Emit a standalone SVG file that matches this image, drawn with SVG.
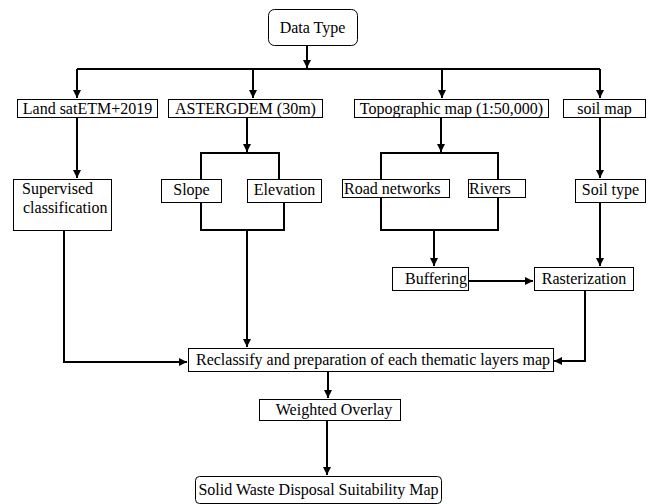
<svg xmlns="http://www.w3.org/2000/svg" width="655" height="504" viewBox="0 0 655 504">
<style>
.box{fill:#fff;stroke:#000;stroke-width:1}
.t{font-family:"Liberation Serif","Times New Roman",serif;font-size:16px;fill:#000}
.m{text-anchor:middle}
.c{fill:none;stroke:#000;stroke-width:2}
</style>
<defs>
<marker id="ah" markerUnits="userSpaceOnUse" markerWidth="9" markerHeight="8" refX="8" refY="4" orient="auto">
<path d="M0,0 L8,4 L0,8 z" fill="#000"/>
</marker>
</defs>
<rect width="655" height="504" fill="#fff"/>
<g id="connectors">
<path class="c" d="M307,45 V68" marker-end="url(#ah)"/>
<path class="c" d="M77,69 H600"/>
<path class="c" d="M77,69 V98" marker-end="url(#ah)"/>
<path class="c" d="M253,69 V98" marker-end="url(#ah)"/>
<path class="c" d="M442,69 V98" marker-end="url(#ah)"/>
<path class="c" d="M600,69 V98" marker-end="url(#ah)"/>
<path class="c" d="M77,117 V178" marker-end="url(#ah)"/>
<path class="c" d="M247,117 V152" marker-end="url(#ah)"/>
<path class="c" d="M201,179 V153 H279 V179"/>
<path class="c" d="M201,202 V230 H284 V202"/>
<path class="c" d="M247,230 V347" marker-end="url(#ah)"/>
<path class="c" d="M441,117 V152" marker-end="url(#ah)"/>
<path class="c" d="M381,179 V153 H498 V179"/>
<path class="c" d="M381,197 V230 H498 V197"/>
<path class="c" d="M434,230 V266" marker-end="url(#ah)"/>
<path class="c" d="M468,281 H533" marker-end="url(#ah)"/>
<path class="c" d="M600,117 V178" marker-end="url(#ah)"/>
<path class="c" d="M600,202 V266" marker-end="url(#ah)"/>
<path class="c" d="M585,290 V361 H554" marker-end="url(#ah)"/>
<path class="c" d="M64,230 V362 H187" marker-end="url(#ah)"/>
<path class="c" d="M328,371 V398" marker-end="url(#ah)"/>
<path class="c" d="M327,421 V475" marker-end="url(#ah)"/>
</g>
<g id="data-type"><rect class="box" x="268.5" y="9.5" width="89" height="36" rx="6"/><text class="t m" x="312.5" y="33">Data Type</text></g>
<g id="landsat"><rect class="box" x="17.5" y="99.5" width="140" height="18"/><text class="t m" x="87.5" y="114">Land satETM+2019</text></g>
<g id="aster"><rect class="box" x="168.5" y="99.5" width="154" height="18"/><text class="t m" x="245.5" y="114">ASTERGDEM (30m)</text></g>
<g id="topo"><rect class="box" x="354.5" y="99.5" width="194" height="18"/><text class="t m" x="451.5" y="114">Topographic map (1:50,000)</text></g>
<g id="soil-map"><rect class="box" x="563.5" y="99.5" width="82" height="18"/><text class="t m" x="604.5" y="114">soil map</text></g>
<g id="supervised"><rect class="box" x="13.5" y="179.5" width="98" height="51"/><text class="t" x="22" y="194">Supervised</text><text class="t" x="23" y="213">classification</text></g>
<g id="slope"><rect class="box" x="161.5" y="179.5" width="60" height="23"/><text class="t m" x="191.5" y="195">Slope</text></g>
<g id="elevation"><rect class="box" x="247.5" y="179.5" width="74" height="23"/><text class="t m" x="284.5" y="195">Elevation</text></g>
<g id="road"><rect class="box" x="342.5" y="179.5" width="107" height="18"/><text class="t" x="344" y="194">Road networks</text></g>
<g id="rivers"><rect class="box" x="468.5" y="179.5" width="57" height="18"/><text class="t" x="469" y="194">Rivers</text></g>
<g id="soil-type"><rect class="box" x="575.5" y="179.5" width="70" height="23"/><text class="t m" x="610.5" y="195">Soil type</text></g>
<g id="buffering"><rect class="box" x="392.5" y="267.5" width="76" height="23"/><text class="t m" x="436" y="284">Buffering</text></g>
<g id="rasterization"><rect class="box" x="534.5" y="267.5" width="99" height="23"/><text class="t m" x="584" y="284">Rasterization</text></g>
<g id="reclassify"><rect class="box" x="188.5" y="348.5" width="365" height="23"/><text class="t m" x="373" y="365">Reclassify and preparation of each thematic layers map</text></g>
<g id="weighted"><rect class="box" x="259.5" y="399.5" width="141" height="21"/><text class="t m" x="334" y="415">Weighted Overlay</text></g>
<g id="solid"><rect class="box" x="195.5" y="476.5" width="246" height="27" rx="4"/><text class="t m" x="318.5" y="495">Solid Waste Disposal Suitability Map</text></g>
</svg>
